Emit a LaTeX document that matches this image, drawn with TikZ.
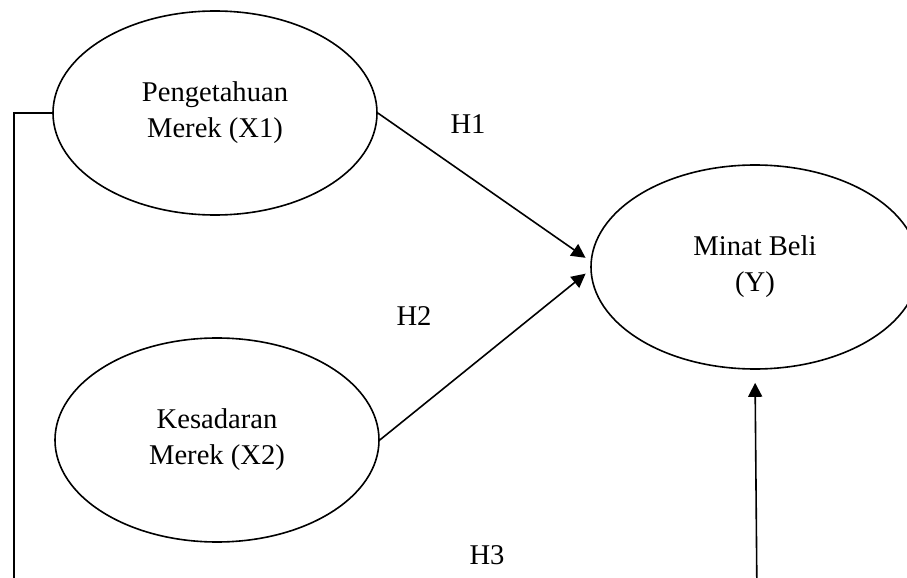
\documentclass[tikz,border=0pt]{standalone}
\usepackage{fontspec}
\setmainfont{Liberation Serif}
\usepackage{tikz}
\usetikzlibrary{positioning,shapes.geometric,arrows.meta}

\begin{document}
\begin{tikzpicture}[
        x=0.5pt, y=-0.5pt,
        var/.style={
            draw,
            ellipse,
            line width=0.8pt,
            minimum width=162pt,
            minimum height=102pt,
            inner sep=0pt,
            align=center,
            font=\fontsize{14.3}{18}\selectfont
        },
        hyp/.style={
            font=\fontsize{14.3}{16}\selectfont
        },
        path/.style={
            -{Triangle[length=7pt,width=7pt]},
            line width=0.8pt,
            shorten >=3pt
        }
    ]

    \useasboundingbox (0,0) rectangle (907,578);
    \clip (0,0) rectangle (907,578);

    \node[var] (x1) at (215,113) {Pengetahuan\\Merek (X1)};
    \node[var] (x2) at (217,440) {Kesadaran\\Merek (X2)};
    \node[var, minimum width=164pt] (y) at (755,267) {Minat Beli\\(Y)};

    \node[hyp] (h1) at (468,124) {H1};
    \node[hyp] (h2) at (414,316) {H2};
    \node[hyp] (h3) at (487,555) {H3};

    % simultaneous path runs below the page edge
    \coordinate (c1) at (14,600);
    \coordinate (c2) at (757,600);

    \draw[path] (x1.east) -- (y.178.5);
    \draw[path] (x2.east) -- (y.181.5);
    \draw[path, shorten >=6.5pt] (x1.west) -| (c1) -- (c2) -- (y.south);

    \end{tikzpicture}
\end{document}
